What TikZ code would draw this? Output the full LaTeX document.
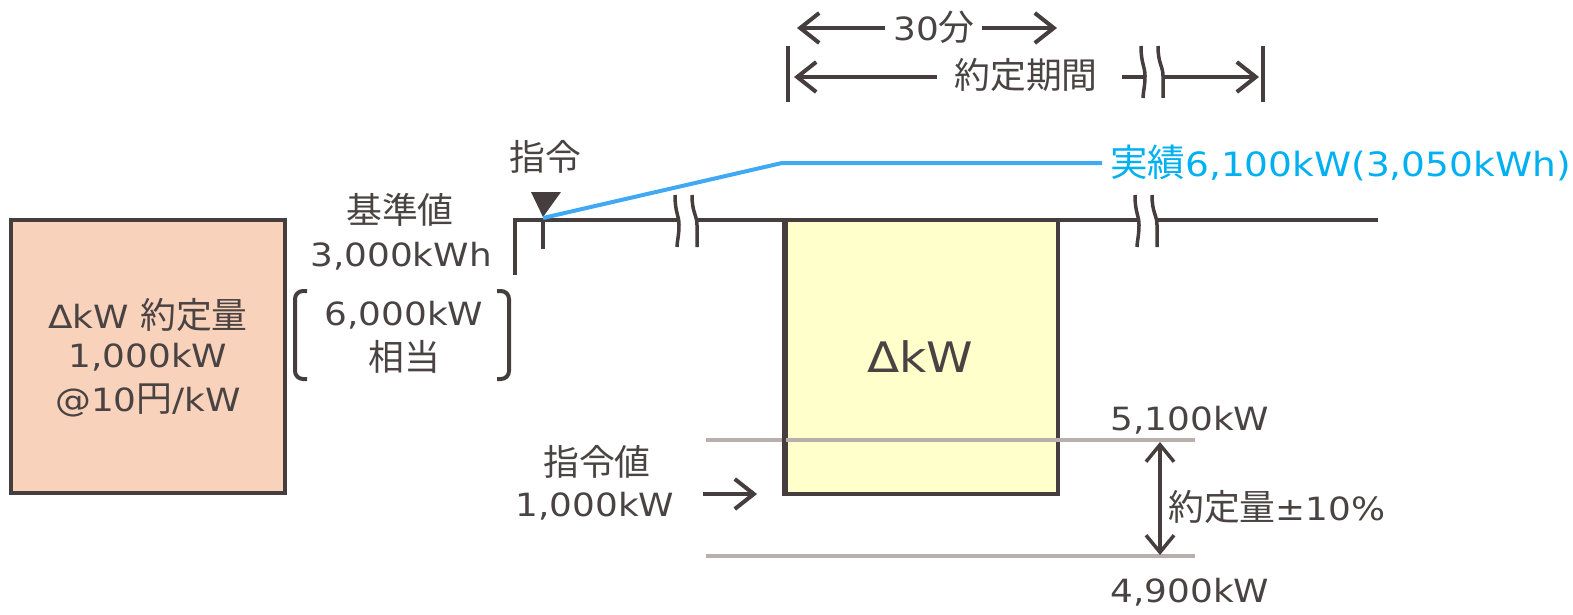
\documentclass[tikz,border=0pt]{standalone}
\usepackage{fontspec}
\setmainfont[FakeStretch=1.12]{DejaVu Sans}
\newfontfamily\jp[Scale=1.12]{Noto Sans CJK JP}
\usetikzlibrary{arrows.meta}
\definecolor{txt}{HTML}{4A4343}
\definecolor{ln}{HTML}{463E3E}
\definecolor{salmon}{HTML}{F9D2BC}
\definecolor{lyellow}{HTML}{FFFFCC}
\definecolor{bluetxt}{HTML}{00B0F0}
\definecolor{blueln}{HTML}{3FA9F5}
\definecolor{grayln}{HTML}{B8AFAF}
\tikzset{
  lbl/.style={text=txt,inner sep=0pt,font=\fontsize{32}{38}\selectfont},
  bigl/.style={text=txt,inner sep=0pt,font=\fontsize{42}{48}\selectfont},
  barb/.style={-{Straight Barb[length=19pt,width=30pt,line width=4pt]}},
  dbarb/.style={{Straight Barb[length=17pt,width=28pt,line width=3.5pt]}-{Straight Barb[length=17pt,width=28pt,line width=3.5pt]}},
  brkmark/.pic={
    \fill[white] (-11,-26) .. controls (-11,-8) and (-7,-6) .. (-7,4) .. controls (-7,15) and (-9,20) .. (-9,26)
       -- (11,26) .. controls (11,20) and (11,15) .. (11,4) .. controls (11,-6) and (6,-8) .. (6,-26) -- cycle;
    \draw[ln,line width=3.5pt] (-11,-26) .. controls (-11,-8) and (-7,-6) .. (-7,4) .. controls (-7,15) and (-9,20) .. (-9,26);
    \draw[ln,line width=3.5pt] (6,-26) .. controls (6,-8) and (11,-6) .. (11,4) .. controls (11,15) and (11,20) .. (11,26);
  }
}
\begin{document}
\begin{tikzpicture}[x=1pt,y=-1pt]
\useasboundingbox (0,0) rectangle (1573,615);
% left box
\node[draw=ln,line width=4pt,fill=salmon,minimum width=274pt,minimum height=273pt,inner sep=0pt] (lbox) at (148,356) {};
\node[lbl] (l1) at (148,315) {ΔkW {\jp 約定量}};
\node[lbl] (l2) at (148,357) {1,000kW};
\node[lbl] (l3) at (148,400) {@10{\jp 円}/kW};
% baseline labels
\node[lbl] (k1) at (400,210) {\jp 基準値};
\node[lbl] (k2) at (401,256) {3,000kWh};
\node[lbl] (k3) at (404,315) {6,000kW};
\node[lbl] (k4) at (404,357) {\jp 相当};
\draw[ln,line width=4pt,rounded corners=8pt] (307,291) -- (295,291) -- (295,379) -- (307,379);
\draw[ln,line width=4pt,rounded corners=8pt] (497,291) -- (509,291) -- (509,379) -- (497,379);
% yellow box
\node[draw=ln,line width=4pt,fill=lyellow,minimum width=272pt,minimum height=274pt,inner sep=0pt] (ybox) at (922,357) {};
\node[bigl] (dkw) at (920,357) {ΔkW};
% gray lines
\coordinate (g1a) at (706,440); \coordinate (g1b) at (1195,440);
\coordinate (g2a) at (706,556); \coordinate (g2b) at (1195,556);
\draw[grayln,line width=4pt] (g1a) -- (g1b);
\draw[grayln,line width=4pt] (g2a) -- (g2b);
\draw[ln,line width=3.5pt] (ybox.south west) -- (ybox.north west);
% baseline
\coordinate (b0) at (515,275);
\coordinate (b1) at (515,220);
\coordinate (b2) at (1378,220);
\draw[ln,line width=4pt] (b0) -- (b1) -- (b2);
\pic at (686,221) {brkmark};
\pic at (1146,221) {brkmark};
% command marker
\coordinate (m0) at (543,218);
\coordinate (m1) at (543,249);
\draw[ln,line width=4pt] (m0) -- (m1);
\fill[ln] (531,192) -- (561,192) -- (543,217) -- cycle;
\node[lbl] (cmd) at (545,157) {\jp 指令};
% blue line
\coordinate (p1) at (782,163);
\coordinate (p2) at (1102,163);
\draw[blueln,line width=4pt] (m0) -- (p1) -- (p2);
\node[lbl,text=bluetxt,anchor=west,font=\fontsize{33.5}{40}\selectfont] (act) at (1110,163) {{\jp 実績}6,100kW(3,050kWh)};
% command value
\node[lbl] (cv1) at (597,462) {\jp 指令値};
\node[lbl] (cv2) at (595,506) {1,000kW};
\coordinate (ca) at (703,494);
\coordinate (cb) at (757,494);
\draw[ln,line width=4pt,barb] (ca) -- (cb);
% range
\node[lbl] (r1) at (1190,420) {5,100kW};
\node[lbl] (r2) at (1190,592) {4,900kW};
\node[lbl,anchor=west] (r3) at (1168,507) {{\jp 約定量}±10\%};
\coordinate (va) at (1160,442);
\coordinate (vb) at (1160,555);
\draw[ln,line width=3.5pt,dbarb] (va) -- (vb);
% top arrows
\coordinate (t1a) at (788,46); \coordinate (t1b) at (788,102);
\coordinate (t2a) at (1263,46); \coordinate (t2b) at (1263,102);
\draw[ln,line width=4pt] (t1a) -- (t1b);
\draw[ln,line width=4pt] (t2a) -- (t2b);
\node[lbl] (m30) at (934,27) {30{\jp 分}};
\coordinate (a1) at (885,28); \coordinate (a2) at (797,28);
\coordinate (a3) at (982,28); \coordinate (a4) at (1057,28);
\draw[ln,line width=4pt,barb] (a1) -- (a2);
\draw[ln,line width=4pt,barb] (a3) -- (a4);
\node[lbl] (per) at (1026,75) {\jp 約定期間};
\coordinate (e1) at (937,77); \coordinate (e2) at (794,77);
\coordinate (e3) at (1122,77); \coordinate (e4) at (1259,77);
\draw[ln,line width=4pt,barb] (e1) -- (e2);
\draw[ln,line width=4pt,barb] (e3) -- (e4);
\pic at (1152,72) {brkmark};
\end{tikzpicture}
\end{document}
